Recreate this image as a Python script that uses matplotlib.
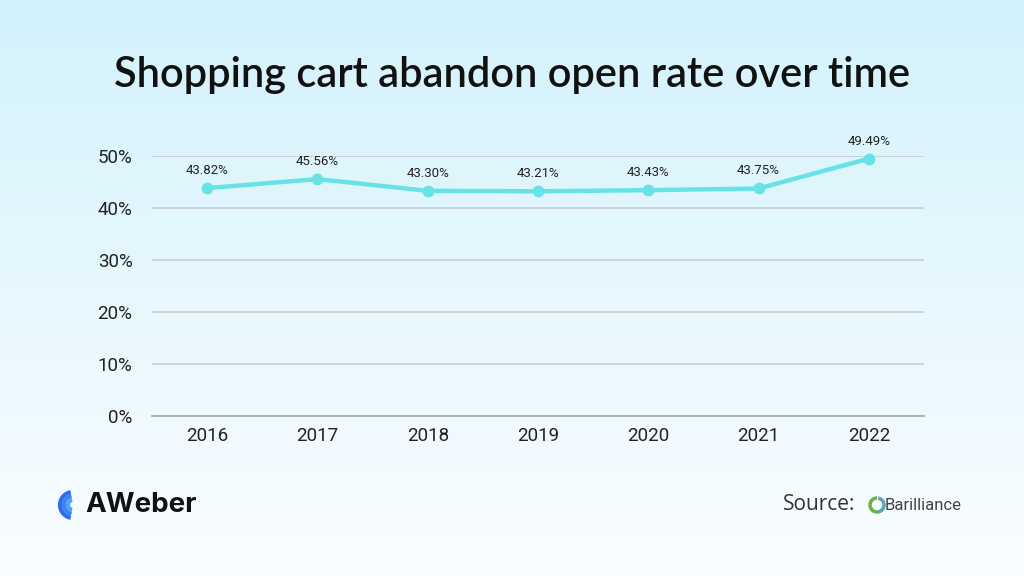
import matplotlib
matplotlib.use("Agg")
import matplotlib.pyplot as plt
import numpy as np
from matplotlib.patches import Arc

years = ["2016", "2017", "2018", "2019", "2020", "2021", "2022"]
open_rate = [43.82, 45.56, 43.30, 43.21, 43.43, 43.75, 49.49]
yticks = [0, 10, 20, 30, 40, 50]
title = "Shopping cart abandon open rate over time"

plt.rcParams['font.family'] = ['Roboto', 'DejaVu Sans']

fig = plt.figure(figsize=(10.24, 5.76), dpi=100)

# background gradient
bg = fig.add_axes([0, 0, 1, 1], zorder=-10)
top = np.array([211, 242, 252]) / 255
bot = np.array([250, 253, 255]) / 255
t = np.linspace(0, 1, 256)[:, None]
grad = top * (1 - t) + bot * t
bg.imshow(grad[:, None, :], aspect='auto', extent=[0, 1, 0, 1])
bg.set_axis_off()

ax = fig.add_axes([152/1024, 1-416/576, 772/1024, 260/576])
ax.patch.set_alpha(0)
x = np.arange(len(years))
ax.plot(x, open_rate, color='#67e3e8', lw=3.2, marker='o', ms=7.5, solid_capstyle='round', zorder=3, clip_on=False)
for xi, v in zip(x, open_rate):
    ax.annotate(f"{v:.2f}%", (xi, v), xytext=(0, 8), textcoords='offset points',
                ha='center', va='bottom', fontsize=9.5, color='#222222')
ax.set_xlim(-0.5, len(years) - 0.5)
ax.set_ylim(0, 50)
ax.set_yticks(yticks)
ax.set_yticklabels([f"{v}%" for v in yticks])
ax.set_xticks(x)
ax.set_xticklabels(years)
ax.grid(axis='y', color='#c9cdd1', lw=1.2)
ax.set_axisbelow(True)
for s in ['top', 'right', 'left']:
    ax.spines[s].set_visible(False)
ax.spines['bottom'].set_color('#a9adb1')
ax.spines['bottom'].set_linewidth(1.3)
ax.tick_params(length=0, labelsize=13.5, colors='#222222')
ax.tick_params(axis='y', pad=14)
ax.tick_params(axis='x', pad=8)

fig.text(0.5, 1-75/576, title, ha='center', va='center', fontsize=30,
         fontfamily=['Lato', 'DejaVu Sans'], fontweight='semibold', color='#111111')

# AWeber logo
fig.text(85/1024, 1-505/576, "AWeber", ha='left', va='center', fontsize=20,
         fontweight='bold', color='#111111', fontfamily=['Inter', 'DejaVu Sans'])
lax = fig.add_axes([55/1024, 1-520/576, 32/1024, 30/576])
lax.set_xlim(0, 32); lax.set_ylim(0, 30); lax.set_axis_off()
for r, c in [(13, '#2f6bf0'), (9, '#3b82f6'), (5, '#5aa0f8')]:
    lax.add_patch(Arc((18, 15), 2*r, 2*r, theta1=100, theta2=260, lw=3, color=c))

# Source
fig.text(783/1024, 1-505/576, "Source:", ha='left', va='center', fontsize=15,
         color='#333333', fontfamily=['Open Sans', 'DejaVu Sans'])
sax = fig.add_axes([866/1024, 1-516/576, 22/1024, 22/576])
sax.set_xlim(0, 22); sax.set_ylim(0, 22); sax.set_axis_off()
sax.add_patch(Arc((11, 11), 14, 14, theta1=90, theta2=270, lw=2.5, color='#6bb33f'))
sax.add_patch(Arc((11, 11), 14, 14, theta1=-90, theta2=80, lw=2.5, color='#5aa6b8'))
fig.text(885/1024, 1-506/576, "Barilliance", ha='left', va='center', fontsize=12,
         color='#444444', fontfamily=['Roboto', 'DejaVu Sans'])

fig.savefig("out.png", dpi=100)
